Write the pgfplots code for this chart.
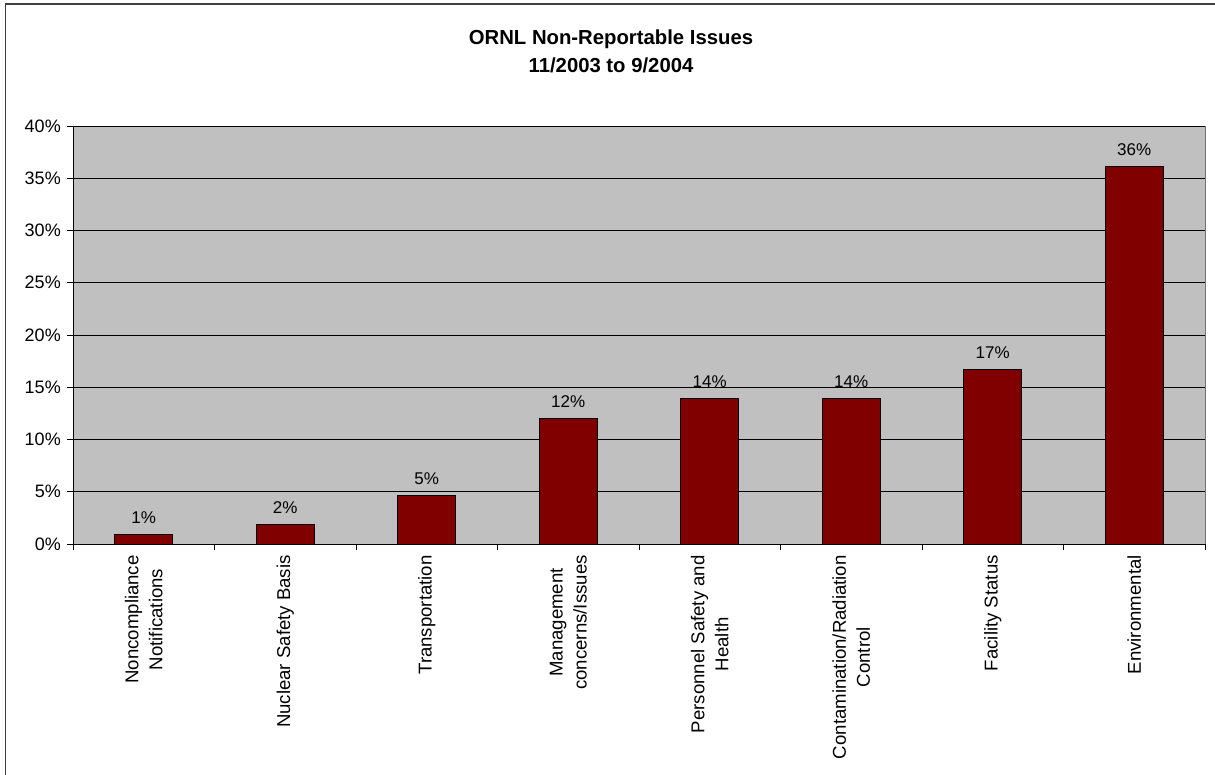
\documentclass[border=0pt]{standalone}
\usepackage{pgfplots}
\pgfplotsset{compat=1.18}
\usepackage{fontspec}
\setmainfont{Liberation Sans}
\definecolor{barred}{HTML}{800000}
\definecolor{bggray}{HTML}{C0C0C0}
\begin{document}
\begin{tikzpicture}[x=1pt,y=1pt]
\path[use as bounding box] (0,0) rectangle (1215,775);
\draw[line width=1.3pt, black!75] (5.5,0) -- (5.5,771) -- (1215,771);
\node[anchor=base, font=\fontsize{20.3}{24}\selectfont\bfseries] at (611,730) {ORNL Non-Reportable Issues};
\node[anchor=base, font=\fontsize{20.3}{24}\selectfont\bfseries] at (611,702.7) {11/2003 to 9/2004};
\begin{axis}[
  at={(73pt,231pt)}, anchor=south west,
  width=1132pt, height=418pt, scale only axis,
  xmin=-0.5, xmax=7.5, ymin=0, ymax=40,
  axis lines*=left, axis line style={-, black, line width=0.8pt},
  axis background/.style={fill=bggray, draw=gray!90!black, line width=0.8pt},
  ytick={0,5,10,15,20,25,30,35,40},
  yticklabels={0\%,5\%,10\%,15\%,20\%,25\%,30\%,35\%,40\%},
  yticklabel style={font=\fontsize{18}{21}\selectfont},
  minor ytick={0,5,10,15,20,25,30,35,40},
  ymajorgrids, major grid style={black, line width=0.6pt},
  xtick={0,1,2,3,4,5,6,7},
  xticklabels={{Noncompliance\\Notifications},{Nuclear Safety Basis},{Transportation},{Management\\concerns/Issues},{Personnel Safety and\\Health},{Contamination/Radiation\\Control},{Facility Status},{Environmental}},
  xticklabel style={rotate=90, anchor=east, align=center, font=\fontsize{18.6}{24}\selectfont},
  xticklabel shift=7.8pt,
  yticklabel shift=8.7pt,
  minor xtick={-0.5,0.5,1.5,2.5,3.5,4.5,5.5,6.5,7.5},
  tick align=outside, major tick length=0pt, minor tick length=6pt,
  tick style={black, line width=0.8pt},
  ybar, bar width=57.7pt,
  nodes near coords={\pgfmathprintnumber[fixed,precision=0,assume math mode=true]{\pgfplotspointmeta}\%},
  nodes near coords style={font=\fontsize{17}{20}\selectfont, yshift=7.3pt},
  clip=false,
]
\addplot[fill=barred, draw=black, line width=0.8pt] coordinates {
  (0,0.926) (1,1.852) (2,4.630) (3,12.037) (4,13.889) (5,13.889) (6,16.667) (7,36.111)
};
\end{axis}
\end{tikzpicture}
\end{document}
